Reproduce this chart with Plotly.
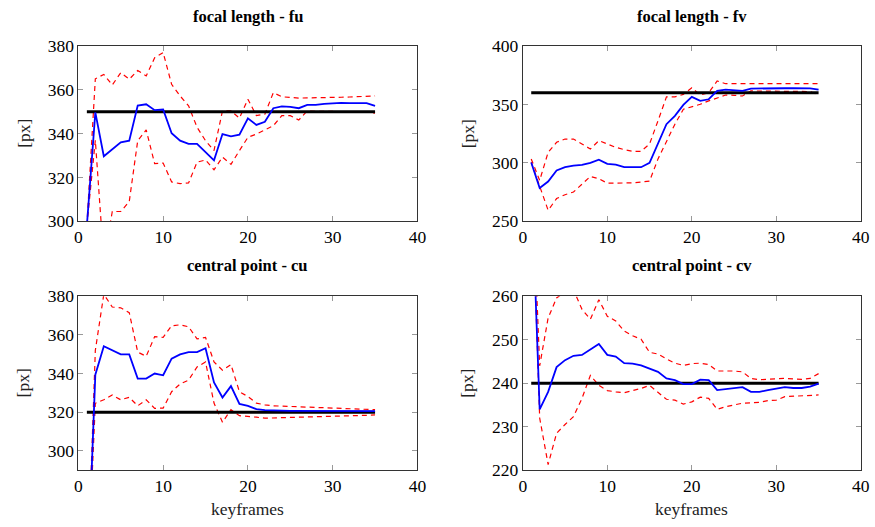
import plotly.graph_objects as go

keyframes = list(range(1, 36))

# focal length fu
fu_mean = [298, 349.7, 329.7, 333, 336, 336.8, 352.8, 353.4, 350.7, 351, 340.2, 336.8, 335.3, 335.3, 331.5, 327.8,
           339.8, 338.8, 339.5, 347, 344, 345.4, 351.6, 352.4, 352.2, 351.6, 353.1, 353.1, 353.6, 353.9, 354, 353.9,
           353.9, 353.9, 352.7]
fu_upper = [298, 365, 367, 362.2, 367.8, 364.8, 368.8, 366.3, 374.6, 377, 362.5, 357.2, 352.7, 342.9, 336.8, 332.3,
            350.4, 350.4, 347.1, 355.7, 348.2, 348.9, 358.7, 356.8, 356.5, 356.2, 356.3, 356.3, 356.4, 356.5, 356.6,
            356.7, 356.8, 357, 357.2]
fu_lower = [298, 337, 282, 304.5, 304.5, 309, 336.8, 341.7, 326.3, 326.6, 318, 317.2, 317.5, 327, 328, 323.5,
            329.3, 326, 332.3, 338.3, 339.8, 341.8, 343.6, 348.2, 348.2, 346.2, 350.4, 350.2, 350.2, 350.1, 350.1,
            350, 350, 349.8, 349.4]
fu_true = [350, 350]

# focal length fv
fv_mean = [300.3, 278.5, 284.1, 293.5, 296.3, 297.7, 298.3, 300, 302.8, 299.2, 298.6, 296.3, 296.3, 296.3, 300,
           316.1, 333.1, 340.2, 349.6, 356.4, 353, 354.4, 361.5, 362.6, 362.3, 361.5, 363.5, 363.7, 363.7, 363.8,
           363.8, 363.8, 363.8, 363.7, 362.6]
fv_upper = [303.4, 285, 309, 317.6, 320.4, 320.4, 316.1, 311.9, 319, 316.1, 313.3, 311.3, 309.9, 309.9, 316.1,
            336, 356.4, 356.4, 358.6, 364.3, 358, 360, 370, 367.7, 367.7, 367.5, 367.5, 367.5, 367.5, 367.6, 367.6,
            367.7, 367.7, 367.7, 367.8]
fv_lower = [300.6, 279.3, 259.5, 269.5, 272.8, 275.1, 281.6, 288.4, 286.4, 282.7, 282.7, 282.7, 283, 283.6, 284.4,
            303.4, 319, 333.1, 345.9, 347.9, 350.1, 353, 355.8, 358, 357.8, 357.2, 361.5, 361.5, 361.5, 361.6, 361.6,
            361.5, 361.4, 361, 358]
fv_true = [360, 360]

# central point cu
cu_mean = [225, 339.4, 354.1, 351.9, 349.9, 349.9, 337.4, 337.4, 340, 339.1, 347.7, 349.9, 351.1, 351.1, 353.1,
           335.4, 327.6, 333.5, 324.3, 323.3, 321.6, 321.1, 320.8, 320.8, 320.7, 320.7, 320.7, 320.7, 320.6, 320.6,
           320.6, 320.6, 320.6, 320.6, 320.6]
cu_upper = [225, 352, 381, 374.4, 374, 371.5, 351.1, 348.9, 359.1, 358.7, 364.7, 365.2, 364.2, 357.9, 358.7, 346,
            341.7, 344.6, 330.6, 328.1, 324.7, 323.8, 323.3, 323.1, 322.9, 322.7, 322.5, 322.3, 322.1, 322, 321.9,
            321.8, 321.6, 321.5, 321.3]
cu_lower = [225, 324.6, 326.4, 328.9, 326.4, 327.7, 323.3, 326.4, 322, 322.1, 330.6, 334.6, 336.6, 343.4, 346,
            324.7, 314.8, 321.3, 318.2, 317.9, 317.4, 316.9, 317, 317.1, 317.2, 317.3, 317.4, 317.5, 317.7, 317.8,
            318, 318.1, 318.3, 318.4, 318.6]
cu_true = [320, 320]

# central point cv
cv_mean = [288, 234, 238, 243.7, 245.3, 246.3, 246.5, 247.7, 249, 246.5, 246.1, 244.6, 244.5, 244.1, 243.3, 242.6,
           241.1, 240.7, 239.8, 239.8, 240.8, 240.7, 238.4, 238.6, 238.9, 239.1, 238, 238, 238.4, 238.8, 239.1,
           238.9, 238.9, 239.2, 239.9]
cv_upper = [292, 244, 255, 259.6, 261, 261.5, 257, 254.7, 259.2, 255.4, 254.3, 252, 250.9, 250.1, 247.1, 246.7,
            245.6, 244.6, 244.1, 244.5, 244.6, 244.3, 242.8, 242.8, 242.8, 242.6, 241.1, 240.8, 240.9, 241.1, 241.1,
            241, 240.9, 241.1, 242.2]
cv_lower = [290, 232, 221.3, 228.5, 230.5, 232.3, 236.5, 241.8, 239.5, 238.3, 238, 237.8, 238.3, 238.8, 239.5, 238,
            236.3, 236.1, 235.2, 235.7, 236.8, 236.5, 234, 234.6, 235, 235.4, 235.5, 235.6, 236, 236.1, 236.9, 237,
            237.1, 237.2, 237.3]
cv_true = [240, 240]

true_x = [1, 35]

titles = ["focal length - fu", "focal length - fv", "central point - cu", "central point - cv"]
y_ranges = [[300, 380], [250, 400], [290, 380], [220, 260]]
y_ticks = [[300, 320, 340, 360, 380], [250, 300, 350, 400], [300, 320, 340, 360, 380], [220, 230, 240, 250, 260]]
x_ticks = [0, 10, 20, 30, 40]

panels = [
    (fu_mean, fu_upper, fu_lower, fu_true),
    (fv_mean, fv_upper, fv_lower, fv_true),
    (cu_mean, cu_upper, cu_lower, cu_true),
    (cv_mean, cv_upper, cv_lower, cv_true),
]

W, H = 875, 527
# observed capture: page content is shown with an 8px border and rescaled; compensate
OFF = 8
SX, SY = W / (W + 2 * OFF), H / (H + 2 * OFF)
# target screen pixel boxes (left, right, top, bottom)
boxes = [(82, 420, 44, 221), (525, 862, 44, 221), (82, 420, 296.5, 472), (525, 862, 296.5, 472)]


def px(xs):
    return (xs / SX - OFF) / W


def py(ys):
    return 1 - (ys / SY - OFF) / H


FONT = "Liberation Serif, Times New Roman, Times, serif"
fig = go.Figure()
layout = dict(
    width=W, height=H, margin=dict(l=0, r=0, t=0, b=0, pad=0),
    paper_bgcolor="white", plot_bgcolor="white", showlegend=False,
    font=dict(family=FONT, size=17.5, color="black"),
)
annotations = []
for i, (mean, upper, lower, true) in enumerate(panels):
    n = i + 1
    xa = "x" if n == 1 else f"x{n}"
    ya = "y" if n == 1 else f"y{n}"
    fig.add_trace(go.Scatter(x=keyframes, y=upper, mode="lines", xaxis=xa, yaxis=ya,
                             line=dict(color="#ff0000", width=1.2, dash="5px,4px")))
    fig.add_trace(go.Scatter(x=keyframes, y=lower, mode="lines", xaxis=xa, yaxis=ya,
                             line=dict(color="#ff0000", width=1.2, dash="5px,4px")))
    fig.add_trace(go.Scatter(x=true_x, y=true, mode="lines", xaxis=xa, yaxis=ya,
                             line=dict(color="black", width=3)))
    fig.add_trace(go.Scatter(x=keyframes, y=mean, mode="lines", xaxis=xa, yaxis=ya,
                             line=dict(color="#0000ff", width=1.8)))
    l, r, t, b = boxes[i]
    axis_common = dict(showline=True, linecolor="#333333", linewidth=1, mirror="ticks",
                       ticks="inside", ticklen=5, tickcolor="#999999", showgrid=False, zeroline=False,
                       tickfont=dict(family=FONT, size=17.5, color="black"))
    layout["xaxis" if n == 1 else f"xaxis{n}"] = dict(
        domain=[px(l), px(r)], range=[0, 40], tickvals=x_ticks, anchor=ya, **axis_common)
    layout["yaxis" if n == 1 else f"yaxis{n}"] = dict(
        domain=[py(b), py(t)], range=y_ranges[i], tickvals=y_ticks[i], anchor=xa, **axis_common)
    title_y = 7 if i < 2 else 266 / SY - OFF
    annotations.append(dict(text="<b>" + titles[i] + "</b>", x=px((l + r) / 2), y=1 - title_y / H,
                            xref="paper", yref="paper", showarrow=False, xanchor="center", yanchor="middle",
                            font=dict(family=FONT, size=16.5, color="black")))
    label_x = 27 if i % 2 == 0 else 470
    annotations.append(dict(text="[px]", x=px(label_x), y=py((t + b) / 2), xref="paper", yref="paper",
                            showarrow=False, textangle=-90, xanchor="center", yanchor="middle",
                            font=dict(family=FONT, size=17.5, color="#222222")))
    if i >= 2:
        annotations.append(dict(text="keyframes", x=px((l + r) / 2), y=1 - 519 / H, xref="paper", yref="paper",
                                showarrow=False, xanchor="center", yanchor="middle",
                                font=dict(family=FONT, size=17.5, color="#222222")))

layout["annotations"] = annotations
fig.update_layout(**layout)
fig.write_html("out.html")
